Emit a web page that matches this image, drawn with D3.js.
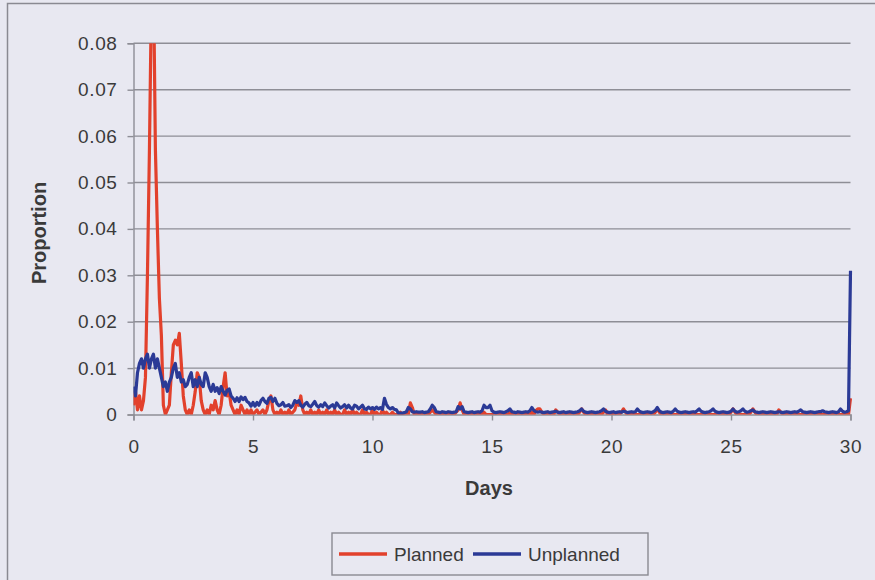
<!DOCTYPE html>
<html>
<head>
<meta charset="utf-8">
<script src="https://cdn.jsdelivr.net/npm/d3@7"></script>
<style>
  html, body { margin: 0; padding: 0; background: #e8e8f1; }
  svg { display: block; font-family: "Liberation Sans", Arial, sans-serif; }
</style>
</head>
<body>
<div id="chart"></div>
<script>
// sampled every 2 hours, day 0 .. day 30 (one row per day)
const hours = d3.range(0, 721, 2);

const planned = [
  0.002, 0.005, 0.001, 0.004, 0.001, 0.003, 0.008, 0.03, 0.057, 0.09, 0.095, 0.057,
  0.04, 0.025, 0.017, 0.002, 0.0, 0.001, 0.002, 0.009, 0.015, 0.016, 0.015, 0.0175,
  0.011, 0.004, 0.001, 0.0, 0.001, 0.0, 0.002, 0.005, 0.009, 0.008, 0.003, 0.001,
  0.0, 0.001, 0.0, 0.002, 0.001, 0.003, 0.001, 0.0, 0.002, 0.006, 0.009, 0.004,
  0.005, 0.002, 0.001, 0.0, 0.001, 0.0, 0.002, 0.001, 0.0, 0.001, 0.0, 0.001,
  0.0, 0.0005, 0.001, 0.0, 0.0005, 0.001, 0.0, 0.001, 0.003, 0.004, 0.001, 0.0,
  0.0005, 0.0, 0.001, 0.0, 0.0005, 0.0, 0.001, 0.0, 0.0005, 0.001, 0.0025, 0.002,
  0.004, 0.001, 0.0, 0.0005, 0.0, 0.001, 0.0, 0.0005, 0.0, 0.001, 0.0, 0.0005,
  0.0, 0.001, 0.0, 0.0005, 0.0, 0.001, 0.0, 0.0005, 0.0, 0.0, 0.001, 0.0,
  0.0005, 0.0, 0.001, 0.0, 0.0005, 0.0, 0.0, 0.001, 0.0, 0.0005, 0.0, 0.0,
  0.001, 0.0, 0.0005, 0.0, 0.0, 0.001, 0.0, 0.0005, 0.0, 0.0, 0.0005, 0.0,
  0.0, 0.0, 0.0005, 0.0, 0.0, 0.0, 0.0, 0.0025, 0.0015, 0.0, 0.0, 0.0,
  0.0, 0.0, 0.0, 0.0, 0.0, 0.0005, 0.001, 0.0005, 0.0, 0.0, 0.0, 0.0,
  0.0, 0.0, 0.0, 0.0, 0.0, 0.0, 0.0005, 0.001, 0.0025, 0.001, 0.0, 0.0,
  0.0, 0.0, 0.0, 0.0, 0.0, 0.0, 0.0, 0.0, 0.0005, 0.0, 0.0, 0.0,
  0.0, 0.0, 0.0, 0.0, 0.0, 0.0, 0.0, 0.0, 0.0, 0.0005, 0.0, 0.0,
  0.0, 0.0, 0.0, 0.0, 0.0, 0.0, 0.0, 0.0, 0.0005, 0.0, 0.0008, 0.0012,
  0.0012, 0.0005, 0.0, 0.0, 0.0, 0.0, 0.0, 0.0, 0.001, 0.0005, 0.0, 0.0,
  0.0, 0.0, 0.0, 0.0, 0.0, 0.0, 0.0, 0.0, 0.0005, 0.0012, 0.0005, 0.0,
  0.0, 0.0, 0.0, 0.0, 0.0, 0.0, 0.0, 0.0, 0.0005, 0.001, 0.0, 0.0,
  0.0, 0.0, 0.0, 0.0, 0.0, 0.0005, 0.0012, 0.0005, 0.0, 0.0, 0.0, 0.0,
  0.0, 0.0, 0.0, 0.0, 0.0, 0.0, 0.0, 0.0, 0.0, 0.0, 0.0005, 0.0012,
  0.0005, 0.0, 0.0, 0.0, 0.0, 0.0, 0.0, 0.0, 0.0, 0.0, 0.0, 0.0,
  0.0, 0.0, 0.0, 0.0, 0.0, 0.0, 0.0, 0.0, 0.0, 0.0, 0.0, 0.0,
  0.0, 0.0, 0.0, 0.0, 0.0, 0.0, 0.0, 0.0, 0.0, 0.0, 0.0, 0.0,
  0.0005, 0.0012, 0.0005, 0.0, 0.0, 0.0, 0.0, 0.0, 0.0, 0.0, 0.0005, 0.0012,
  0.0005, 0.0, 0.0, 0.0, 0.0, 0.0, 0.0, 0.0, 0.0, 0.0, 0.0, 0.0,
  0.001, 0.0005, 0.0, 0.0, 0.0, 0.0, 0.0, 0.0, 0.0, 0.0, 0.0, 0.0,
  0.0, 0.0, 0.0, 0.0, 0.0, 0.0, 0.0, 0.0, 0.0, 0.0, 0.0, 0.0,
  0.0, 0.0, 0.0, 0.0, 0.0, 0.0, 0.0, 0.0, 0.0, 0.0, 0.0, 0.0,
  0.0035
];

const unplanned = [
  0.006, 0.004, 0.009, 0.011, 0.012, 0.010, 0.012, 0.013, 0.010, 0.012, 0.013, 0.010,
  0.012, 0.010, 0.008, 0.006, 0.007, 0.005, 0.007, 0.008, 0.010, 0.011, 0.008, 0.009,
  0.007, 0.0075, 0.006, 0.0065, 0.008, 0.009, 0.006, 0.0075, 0.006, 0.008, 0.0065, 0.006,
  0.009, 0.008, 0.006, 0.005, 0.0065, 0.005, 0.0058, 0.0045, 0.006, 0.005, 0.0042, 0.0052,
  0.0055, 0.004, 0.0035, 0.0028, 0.0036, 0.0028, 0.0038, 0.0032, 0.0037, 0.0028, 0.0025, 0.0018,
  0.0026, 0.0018, 0.0026, 0.002, 0.003, 0.0035, 0.0028, 0.0024, 0.0035, 0.0037, 0.0028, 0.0035,
  0.0024, 0.0019, 0.0021, 0.0026, 0.0018, 0.0019, 0.0021, 0.0015, 0.002, 0.003, 0.0026, 0.003,
  0.002, 0.0016, 0.0022, 0.0026, 0.0019, 0.0017, 0.0022, 0.0028, 0.0019, 0.0016, 0.0021, 0.0017,
  0.0025, 0.0019, 0.0014, 0.0018, 0.0021, 0.0014, 0.0025, 0.0019, 0.0014, 0.0017, 0.0021, 0.0014,
  0.002, 0.0014, 0.0012, 0.002, 0.0018, 0.0012, 0.0016, 0.002, 0.0012, 0.0011, 0.0016, 0.0012,
  0.0015, 0.0011, 0.0016, 0.0012, 0.0015, 0.0011, 0.0035, 0.0022, 0.0015, 0.0012, 0.0015, 0.0011,
  0.001, 0.0003, 0.0003, 0.0003, 0.0004, 0.0006, 0.0015, 0.0012, 0.0006, 0.0005, 0.0006, 0.0005,
  0.0005, 0.0006, 0.0004, 0.0005, 0.0006, 0.0012, 0.002, 0.0015, 0.0006, 0.0005, 0.0004, 0.0006,
  0.0005, 0.0004, 0.0006, 0.0005, 0.0004, 0.0005, 0.0006, 0.0017, 0.0012, 0.0017, 0.0006, 0.0005,
  0.0004, 0.0005, 0.0006, 0.0004, 0.0005, 0.0006, 0.0005, 0.0008, 0.002, 0.0015, 0.0015, 0.002,
  0.0008, 0.0005, 0.0004, 0.0005, 0.0006, 0.0005, 0.0004, 0.0006, 0.0008, 0.0012, 0.0006, 0.0005,
  0.0004, 0.0006, 0.0005, 0.0004, 0.0005, 0.0006, 0.0005, 0.0008, 0.0015, 0.0009, 0.0006, 0.0005,
  0.0006, 0.0005, 0.0004, 0.0005, 0.0006, 0.0004, 0.0005, 0.0006, 0.0007, 0.0005, 0.0004, 0.0005,
  0.0006, 0.0004, 0.0005, 0.0006, 0.0005, 0.0004, 0.0005, 0.0006, 0.0008, 0.0012, 0.0007, 0.0005,
  0.0004, 0.0005, 0.0006, 0.0005, 0.0004, 0.0005, 0.0006, 0.0008, 0.0012, 0.0007, 0.0005, 0.0004,
  0.0005, 0.0006, 0.0004, 0.0005, 0.0006, 0.0005, 0.0007, 0.0006, 0.0004, 0.0005, 0.0006, 0.0005,
  0.0006, 0.0012, 0.0007, 0.0005, 0.0004, 0.0005, 0.0006, 0.0005, 0.0004, 0.0006, 0.0009, 0.0015,
  0.0008, 0.0005, 0.0004, 0.0005, 0.0006, 0.0005, 0.0004, 0.0007, 0.0012, 0.0007, 0.0005, 0.0004,
  0.0005, 0.0006, 0.0005, 0.0004, 0.0005, 0.0006, 0.0005, 0.0008, 0.0012, 0.0007, 0.0005, 0.0004,
  0.0005, 0.0006, 0.0008, 0.0012, 0.0007, 0.0005, 0.0004, 0.0005, 0.0006, 0.0005, 0.0004, 0.0005,
  0.0007, 0.0012, 0.0007, 0.0005, 0.0006, 0.0008, 0.0012, 0.0007, 0.0005, 0.0006, 0.0008, 0.001,
  0.0006, 0.0005, 0.0004, 0.0005, 0.0006, 0.0005, 0.0004, 0.0005, 0.0006, 0.0005, 0.0004, 0.0005,
  0.0006, 0.0005, 0.0004, 0.0005, 0.0006, 0.0005, 0.0004, 0.0005, 0.0006, 0.0005, 0.0007, 0.001,
  0.0006, 0.0005, 0.0004, 0.0005, 0.0006, 0.0005, 0.0004, 0.0005, 0.0006, 0.0006, 0.0008, 0.0006,
  0.0005, 0.0004, 0.0005, 0.0006, 0.0005, 0.0004, 0.0006, 0.0012, 0.0007, 0.0005, 0.0006, 0.0008,
  0.031
];

const seriesNames = ["Planned", "Unplanned"];
const xTicks = [0, 5, 10, 15, 20, 25, 30];
const yTicks = [0, 0.01, 0.02, 0.03, 0.04, 0.05, 0.06, 0.07, 0.08];

const red = "#e2412c";
const blue = "#2b3a96";
const gridColor = "#8e8e96";
const textColor = "#3a3a3a";

const width = 875;
const height = 580;
const plot = { left: 133.5, right: 850.5, top: 43.3, bottom: 414.5 };

const svg = d3.select("#chart")
  .append("svg")
  .attr("width", width)
  .attr("height", height);

// outer frame of the chart
svg.append("rect")
  .attr("x", 7.5)
  .attr("y", 3.5)
  .attr("width", 900)
  .attr("height", 600)
  .attr("fill", "none")
  .attr("stroke", "#8a8a92")
  .attr("stroke-width", 1.5);

const xScale = d3.scaleLinear()
  .domain([0, 30])
  .range([plot.left, plot.right]);

const yScale = d3.scaleLinear()
  .domain([0, 0.08])
  .range([plot.bottom, plot.top]);

// gridlines
svg.append("g")
  .selectAll("line")
  .data(yTicks.slice(1))
  .join("line")
  .attr("x1", plot.left)
  .attr("x2", plot.right)
  .attr("y1", (d) => yScale(d))
  .attr("y2", (d) => yScale(d))
  .attr("stroke", gridColor)
  .attr("stroke-width", 1.4);

// axes
const yAxis = svg.append("g")
  .attr("transform", `translate(${plot.left},0)`)
  .call(d3.axisLeft(yScale).tickValues(yTicks).tickSize(6).tickPadding(10)
    .tickFormat((d) => (d === 0 ? "0" : d3.format(".2f")(d))));

const xAxis = svg.append("g")
  .attr("transform", `translate(0,${plot.bottom})`)
  .call(d3.axisBottom(xScale).tickValues(xTicks).tickSize(6).tickPadding(19));

[xAxis, yAxis].forEach((ax) => {
  ax.select(".domain").attr("stroke", gridColor).attr("stroke-width", 1.4);
  ax.selectAll(".tick line").attr("stroke", gridColor).attr("stroke-width", 1.4);
  ax.selectAll(".tick text")
    .attr("fill", textColor)
    .style("font-size", "19px")
    .style("letter-spacing", "0.6px");
});

// lines
svg.append("clipPath")
  .attr("id", "plotClip")
  .append("rect")
  .attr("x", plot.left)
  .attr("y", plot.top)
  .attr("width", plot.right - plot.left + 4)
  .attr("height", plot.bottom - plot.top);

const lineGen = d3.line()
  .x((d) => xScale(d.day))
  .y((d) => yScale(d.value));

const series = [planned, unplanned].map((values, i) => ({
  name: seriesNames[i],
  color: i === 0 ? red : blue,
  points: hours.map((h, j) => ({ day: h / 24, value: values[j] })),
}));

svg.append("g")
  .attr("clip-path", "url(#plotClip)")
  .selectAll("path")
  .data(series)
  .join("path")
  .attr("d", (d) => lineGen(d.points))
  .attr("fill", "none")
  .attr("stroke", (d) => d.color)
  .attr("stroke-width", 3.2)
  .attr("stroke-linejoin", "round");

// axis titles
svg.append("text")
  .attr("transform", `translate(46,233) rotate(-90)`)
  .attr("text-anchor", "middle")
  .attr("fill", textColor)
  .style("font-size", "20px")
  .style("font-weight", "bold")
  .text("Proportion");

svg.append("text")
  .attr("x", 489)
  .attr("y", 495)
  .attr("text-anchor", "middle")
  .attr("fill", textColor)
  .style("font-size", "20px")
  .style("font-weight", "bold")
  .text("Days");

// legend
const legend = svg.append("g").attr("transform", "translate(332,533)");

legend.append("rect")
  .attr("width", 316)
  .attr("height", 42)
  .attr("fill", "none")
  .attr("stroke", "#8a8a92")
  .attr("stroke-width", 1.4);

const legendX = [7, 141];
const legendItems = legend.selectAll("g.item")
  .data(series)
  .join("g")
  .attr("class", "item")
  .attr("transform", (d, i) => `translate(${legendX[i]},21)`);

legendItems.append("line")
  .attr("x1", 0)
  .attr("x2", 48)
  .attr("stroke", (d) => d.color)
  .attr("stroke-width", 3.5);

legendItems.append("text")
  .attr("x", 55)
  .attr("y", 6.5)
  .attr("fill", textColor)
  .style("font-size", "19px")
  .text((d) => d.name);
</script>
</body>
</html>
